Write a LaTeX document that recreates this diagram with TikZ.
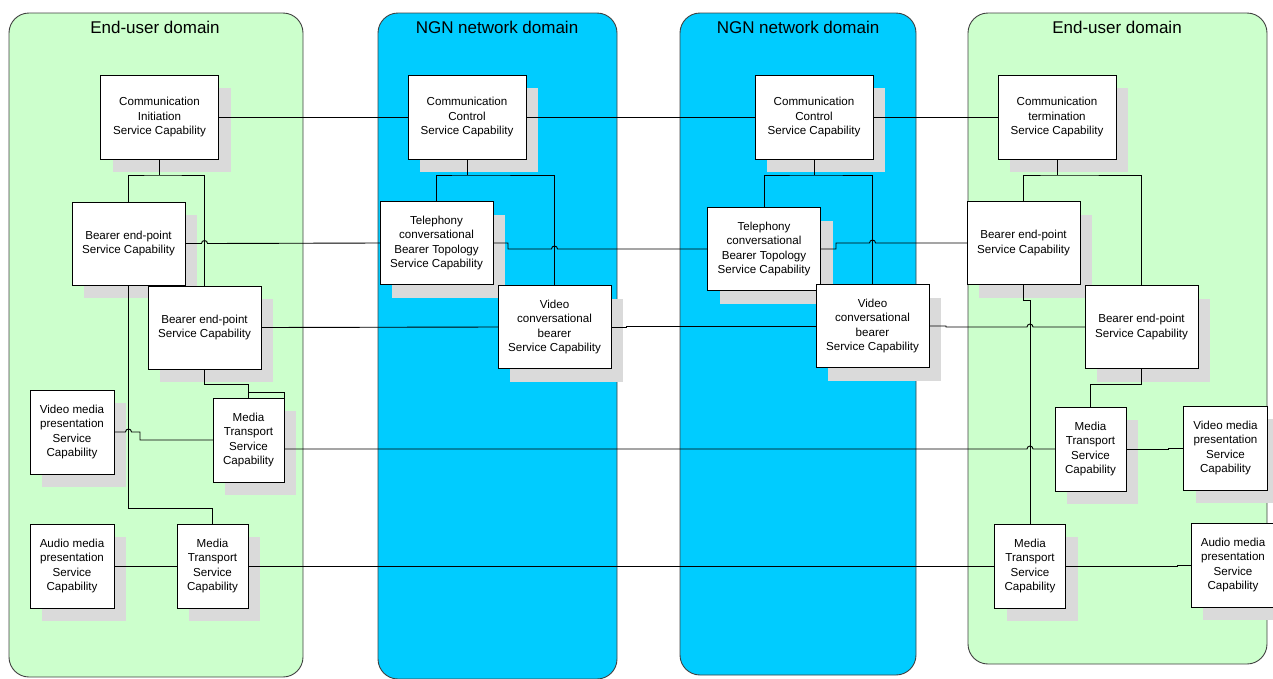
\documentclass[tikz,border=0pt]{standalone}
\usepackage{fontspec}
\setmainfont{Liberation Sans}
\usetikzlibrary{shadows}
\definecolor{userfill}{HTML}{CCFFCC}
\definecolor{ngnfill}{HTML}{00CCFF}
\definecolor{shade}{HTML}{DADADA}
\definecolor{rim}{HTML}{404040}
\begin{document}
\begin{tikzpicture}[x=1pt,y=-1pt,
  zone/.style={draw=rim, line width=0.9pt, rounded corners=20pt},
  zonetitle/.style={font=\fontsize{17}{20}\selectfont, inner sep=0pt},
  capbox/.style={draw=black, line width=0.9pt, fill=white, inner sep=0pt, outer sep=0pt,
    align=center, font=\fontsize{11.6}{14.5}\selectfont,
    general shadow={fill=shade, draw=none, shadow xshift=12pt, shadow yshift=-13pt}},
  widebox/.style={capbox, minimum width=113pt, minimum height=83pt},
  topbox/.style={capbox, minimum width=118pt, minimum height=84pt},
  narrowbox/.style={capbox, minimum width=71pt, minimum height=84pt},
  presbox/.style={capbox, minimum width=84pt, minimum height=84pt},
  wire/.style={draw=black, line width=0.9pt}
]
\useasboundingbox (0,0) rectangle (1273,678);

% domains
\path[zone, fill=userfill] (9,13) rectangle (303,677);
\path[zone, fill=ngnfill] (378,13) rectangle (617,679);
\path[zone, fill=ngnfill] (680,13) rectangle (916,675);
\path[zone, fill=userfill] (968,13) rectangle (1267,664);

\node[zonetitle] (tL) at (155,27) {End-user domain};
\node[zonetitle] (tN1) at (497,27) {NGN network domain};
\node[zonetitle] (tN2) at (798,27) {NGN network domain};
\node[zonetitle] (tR) at (1117,27) {End-user domain};

% originating end-user side
\node[topbox] (CI) at (159.5,117) {Communication\\Initiation\\Service Capability};
\node[widebox] (B1) at (128.5,243.5) {Bearer end-point\\Service Capability};
\node[widebox] (B2) at (204.5,327.5) {Bearer end-point\\Service Capability};
\node[presbox] (VL) at (72,432) {Video media\\presentation\\Service\\Capability};
\node[narrowbox] (ML1) at (248.5,440) {Media\\Transport\\Service\\Capability};
\node[presbox] (AL) at (72,566) {Audio media\\presentation\\Service\\Capability};
\node[narrowbox] (ML2) at (212.5,566) {Media\\Transport\\Service\\Capability};

% first NGN domain
\node[topbox] (CC1) at (467,117) {Communication\\Control\\Service Capability};
\node[widebox] (T1) at (436.5,243) {Telephony\\conversational\\Bearer Topology\\Service Capability};
\node[widebox] (V1) at (554.5,327) {Video\\conversational\\bearer\\Service Capability};

% second NGN domain
\node[topbox] (CC2) at (814,117) {Communication\\Control\\Service Capability};
\node[widebox] (T2) at (764,249) {Telephony\\conversational\\Bearer Topology\\Service Capability};
\node[widebox] (V2) at (872.5,326) {Video\\conversational\\bearer\\Service Capability};

% terminating end-user side
\node[topbox] (CT) at (1057,117) {Communication\\termination\\Service Capability};
\node[widebox] (BR1) at (1023.5,243) {Bearer end-point\\Service Capability};
\node[widebox] (BR2) at (1141.5,327) {Bearer end-point\\Service Capability};
\node[narrowbox] (MR1) at (1090.5,449) {Media\\Transport\\Service\\Capability};
\node[presbox] (VR) at (1225.5,448) {Video media\\presentation\\Service\\Capability};
\node[narrowbox] (MR2) at (1030,566) {Media\\Transport\\Service\\Capability};
\node[presbox] (AR) at (1233,565) {Audio media\\presentation\\Service\\Capability};

% junction points below the control capabilities
\coordinate (jCI) at (159.5,175);
\coordinate (jCC1) at (467,175);
\coordinate (jCC2) at (814,175);
\coordinate (jCT) at (1057,175);

% control chain
\path[wire] (CI.east) -- (CC1.west);
\path[wire] (CC1.east) -- (CC2.west);
\path[wire] (CC2.east) -- (CT.west);

% fan-out under each control capability
\path[wire] (CI.south) -- (jCI);
\path[wire] (B1.north) |- (jCI) -| (B2.north);
\path[wire] (CC1.south) -- (jCC1);
\path[wire] (T1.north) |- (jCC1) -| (V1.north);
\path[wire] (CC2.south) -- (jCC2);
\path[wire] (T2.north) |- (jCC2) -| (V2.north);
\path[wire] (CT.south) -- (jCT);
\path[wire] (BR1.north) |- (jCT) -| (BR2.north);

% telephony bearer path
\path[wire] (B1.east) -- (201.5,243.5) arc[start angle=180,end angle=0,radius=3pt] -- (T1.west);
\path[wire] (T1.east) -- (508,243) -- (508,249) -- (551.5,249) arc[start angle=180,end angle=0,radius=3pt] -- (T2.west);
\path[wire] (T2.east) -- (836,249) -- (836,243) -- (869.5,243) arc[start angle=180,end angle=0,radius=3pt] -- (BR1.west);

% video bearer path
\path[wire] (B2.east) -- (V1.west);
\path[wire] (V1.east) -- (626,327) -- (626,326) -- (V2.west);
\path[wire] (V2.east) -- (946,326) -- (946,327) -- (1027,327) arc[start angle=180,end angle=0,radius=3pt] -- (BR2.west);

% bearer end-points to media transport
\path[wire] (B1.south) -- (128.5,508) -| (ML2.north);
\path[wire] (B2.south) -- (204.5,384) -| (ML1.north);
\path[wire] (248.5,392) -- (284,392) -- (ML1.north east);
\path[wire] (BR1.south) -- (1023.5,300) -- (1030,300) -- (MR2.north);
\path[wire] (BR2.south) -- (1141.5,384) -| (MR1.north);

% media paths
\path[wire] (VL.east) -- (125.5,432) arc[start angle=180,end angle=0,radius=3pt] -- (140,432) -- (140,440) -- (ML1.west);
\path[wire] (ML1.east |- 0,449) -- (1027,449) arc[start angle=180,end angle=0,radius=3pt] -- (MR1.west);
\path[wire] (MR1.east) -- (1168,449) -- (1168,448) -- (VR.west);
\path[wire] (AL.east) -- (130,566) -- (ML2.west);
\path[wire] (ML2.east) -- (MR2.west);
\path[wire] (MR2.east) -- (1177,566) -- (1177,565) -- (AR.west);
\end{tikzpicture}
\end{document}
